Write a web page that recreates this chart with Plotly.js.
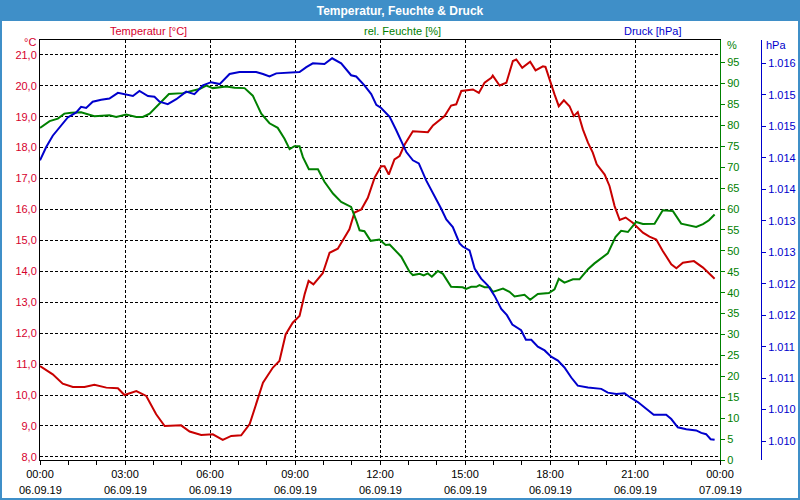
<!DOCTYPE html>
<html>
<head>
<meta charset="utf-8">
<script src="https://cdn.plot.ly/plotly-3.0.1.min.js"></script>
<style>
html,body{margin:0;padding:0;background:#fff;}
#chart{width:800px;height:500px;}
</style>
</head>
<body>
<div id="chart"></div>
<script>
// ---- Data (hours since 06.09.19 00:00) ----
const tTemp = [0,0.45,0.80,1.16,1.57,1.92,2.34,2.75,2.98,3.40,3.75,4.10,4.40,4.98,5.28,5.69,6.10,6.45,6.75,7.10,7.40,7.69,7.87,8.22,8.45,8.67,8.92,9.16,9.34,9.48,9.65,9.98,10.22,10.51,10.92,11.10,11.34,11.57,11.81,12.04,12.16,12.31,12.51,12.69,12.87,13.16,13.69,13.87,14.28,14.51,14.69,14.87,15.28,15.49,15.69,15.93,15.98,16.22,16.46,16.69,16.81,17.02,17.30,17.49,17.75,17.84,17.98,18.16,18.31,18.49,18.69,18.84,18.98,19.16,19.34,19.51,19.65,19.93,20.10,20.28,20.46,20.67,20.92,21.28,21.51,21.75,21.98,22.28,22.46,22.69,23.08,23.40,23.81];
const temp = [10.94,10.67,10.37,10.26,10.26,10.33,10.24,10.22,10.00,10.13,9.97,9.38,9.00,9.02,8.82,8.71,8.73,8.55,8.68,8.70,9.06,9.92,10.40,10.89,11.10,11.96,12.34,12.56,13.26,13.69,13.58,13.94,14.60,14.73,15.36,15.90,16.00,16.38,17.03,17.40,17.40,17.13,17.62,17.73,18.10,18.53,18.50,18.72,19.02,19.36,19.40,19.83,19.88,19.77,20.10,20.26,20.33,20.01,20.10,20.80,20.85,20.58,20.78,20.50,20.63,20.61,20.20,19.72,19.34,19.53,19.34,19.02,19.15,18.59,18.16,17.84,17.46,17.13,16.76,16.11,15.66,15.74,15.57,15.25,15.12,15.03,14.66,14.23,14.10,14.28,14.33,14.12,13.76];

const tHum = [0,0.34,0.63,0.86,1.10,1.45,1.92,2.45,2.69,3.04,3.40,3.63,3.87,4.16,4.55,5.04,5.34,5.63,5.87,6.10,6.57,6.87,7.22,7.51,7.81,8.10,8.39,8.63,8.81,8.98,9.16,9.28,9.49,9.81,10.04,10.34,10.63,10.98,11.16,11.28,11.45,11.67,11.98,12.20,12.34,12.57,12.75,13.04,13.16,13.40,13.54,13.69,13.83,14.04,14.22,14.51,14.92,15.04,15.22,15.40,15.51,15.69,15.87,15.98,16.34,16.57,16.75,17.10,17.30,17.57,17.96,18.16,18.31,18.51,18.81,19.04,19.34,19.57,19.75,20.04,20.31,20.51,20.75,21.04,21.28,21.69,21.98,22.34,22.63,23.16,23.40,23.61,23.81];
const hum = [79.4,81.0,81.6,82.8,83.0,83.1,82.2,82.4,82.0,82.6,82.0,82.0,82.8,84.9,87.5,87.7,88.3,88.7,89.5,88.9,89.3,89.0,88.9,87.1,82.8,80.5,79.4,76.8,74.3,75.0,75.0,72.4,69.5,69.5,66.5,63.7,61.7,60.5,57.3,54.9,54.7,52.4,52.7,51.4,51.5,49.8,48.6,45.0,44.2,44.5,44.1,44.6,43.8,45.2,44.5,41.4,41.3,40.9,41.4,41.4,41.8,41.3,41.3,40.2,41.0,40.2,39.1,39.5,38.3,39.7,39.9,40.8,43.3,42.4,43.2,43.2,45.6,47.0,48.0,49.4,53.3,54.8,54.5,56.9,56.4,56.5,59.7,59.5,56.5,55.7,56.4,57.3,58.7];

const tPres = [0,0.22,0.45,0.69,0.98,1.28,1.45,1.63,1.86,2.16,2.45,2.75,3.04,3.28,3.51,3.81,4.04,4.22,4.51,4.81,5.16,5.45,5.75,6.04,6.34,6.69,7.04,7.63,7.87,8.10,8.34,8.92,9.16,9.40,9.63,10.04,10.31,10.63,10.98,11.16,11.45,11.69,11.87,12.04,12.34,12.57,12.75,12.93,13.16,13.37,13.63,13.92,14.16,14.34,14.57,14.81,14.92,15.16,15.34,15.57,15.81,16.04,16.28,16.48,16.67,16.98,17.15,17.34,17.57,17.81,18.04,18.28,18.51,18.75,18.98,19.34,19.81,20.04,20.34,20.63,20.81,21.10,21.40,21.66,22.10,22.28,22.51,22.81,23.16,23.34,23.51,23.67,23.81];
const pres = [1014.46,1014.67,1014.85,1014.98,1015.14,1015.22,1015.31,1015.29,1015.39,1015.42,1015.44,1015.53,1015.50,1015.48,1015.56,1015.48,1015.47,1015.39,1015.35,1015.43,1015.55,1015.51,1015.65,1015.70,1015.67,1015.83,1015.86,1015.86,1015.83,1015.79,1015.84,1015.85,1015.86,1015.94,1016.00,1015.99,1016.08,1016.00,1015.81,1015.79,1015.65,1015.51,1015.34,1015.29,1015.15,1014.94,1014.76,1014.59,1014.46,1014.41,1014.14,1013.90,1013.69,1013.52,1013.40,1013.14,1013.09,1013.03,1012.74,1012.58,1012.47,1012.31,1012.10,1012.00,1011.85,1011.76,1011.61,1011.61,1011.50,1011.44,1011.34,1011.28,1011.17,1011.01,1010.88,1010.85,1010.83,1010.77,1010.75,1010.76,1010.70,1010.62,1010.51,1010.42,1010.42,1010.35,1010.22,1010.19,1010.17,1010.13,1010.11,1010.03,1010.02];

// ---- Tick labels ----
const xTickVals = [0,3,6,9,12,15,18,21,24];
const xTimeLabels = ['00:00','03:00','06:00','09:00','12:00','15:00','18:00','21:00','00:00'];
const xDateLabels = ['06.09.19','06.09.19','06.09.19','06.09.19','06.09.19','06.09.19','06.09.19','06.09.19','07.09.19'];
const tempTicks = [8,9,10,11,12,13,14,15,16,17,18,19,20,21];
const humTicks = [0,5,10,15,20,25,30,35,40,45,50,55,60,65,70,75,80,85,90,95];
const presTickVals = [1016,1015.5,1015,1014.5,1014,1013.5,1013,1012.5,1012,1011.5,1011,1010.5,1010];
const presTickText = ['1.016','1.015','1.015','1.014','1.014','1.013','1.013','1.012','1.012','1.011','1.011','1.010','1.010'];
const minorHours = [];
for (let h = 0; h <= 24; h++) minorHours.push(h);

// ---- Styling ----
const FONT = 'Liberation Sans, Arial, sans-serif';
const RED = '#c80000', RED_TXT = '#d6002e', GREEN = '#008000', BLUE = '#0000cc', BAR = '#3f8fc8';
const L = 40, R = 39, T = 40, B = 40, W = 800, H = 500;
const plotW = W - L - R, plotH = H - T - B;
const xDomEnd = (720 - L) / plotW;
const px = x => (x - L) / plotW;           // pixel -> paper x
const py = y => (H - B - y) / plotH;       // pixel -> paper y

const traces = [
  {x: tTemp, y: temp, type: 'scatter', mode: 'lines', name: 'Temperatur', yaxis: 'y', line: {color: RED, width: 2}},
  {x: tHum, y: hum, type: 'scatter', mode: 'lines', name: 'rel. Feuchte', yaxis: 'y2', line: {color: GREEN, width: 2}},
  {x: tPres, y: pres, type: 'scatter', mode: 'lines', name: 'Druck', yaxis: 'y3', line: {color: BLUE, width: 2}}
];

const annotations = [
  {text: 'Temperatur [°C]', x: px(148), y: py(31), font: {color: RED_TXT, size: 11, family: FONT}},
  {text: 'rel. Feuchte [%]', x: px(402), y: py(31), font: {color: GREEN, size: 11, family: FONT}},
  {text: 'Druck [hPa]', x: px(652), y: py(31), font: {color: BLUE, size: 11, family: FONT}},
  {text: '°C', x: px(38), y: py(42), xanchor: 'right', font: {color: RED_TXT, size: 11, family: FONT}},
  {text: '%', x: px(725), y: py(45), xanchor: 'left', font: {color: GREEN, size: 11, family: FONT}},
  {text: 'hPa', x: px(764), y: py(45), xanchor: 'left', font: {color: BLUE, size: 11, family: FONT}}
].map(a => Object.assign({xref: 'paper', yref: 'paper', showarrow: false, yanchor: 'middle', xanchor: a.xanchor || 'center'}, a));

xTickVals.forEach((v, i) => {
  annotations.push({text: xDateLabels[i], x: v, xref: 'x', y: py(490), yref: 'paper', showarrow: false,
    xanchor: 'center', yanchor: 'middle', font: {color: '#000', size: 11, family: FONT}});
});

const gridDash = '3px,2px';

const layout = {
  width: W, height: H,
  margin: {l: L, r: R, t: T, b: B, pad: 0},
  paper_bgcolor: '#fff', plot_bgcolor: '#fff',
  separators: ',.',
  showlegend: false,
  font: {family: FONT, size: 11, color: '#000'},
  title: {text: 'Temperatur, Feuchte & Druck', x: 0.5, xref: 'container', xanchor: 'center',
    y: 1 - 10.5 / H, yref: 'container', yanchor: 'middle',
    font: {color: '#fff', size: 12, family: FONT, weight: 'bold'}},
  xaxis: {
    domain: [0, xDomEnd], range: [0, 24], tickmode: 'array', tickvals: xTickVals, ticktext: xTimeLabels,
    ticks: 'outside', ticklen: 4, tickcolor: '#000', tickfont: {color: '#000', size: 11},
    showgrid: true, gridcolor: '#000', gridwidth: 1, griddash: gridDash,
    showline: true, linecolor: '#000', linewidth: 1, mirror: true, zeroline: false,
    minor: {tickmode: 'array', tickvals: minorHours, ticks: 'outside', ticklen: 4, tickcolor: '#000', showgrid: false}
  },
  yaxis: {
    range: [7.9, 21.48], tickmode: 'array', tickvals: tempTicks, tickformat: '.1f',
    ticks: '', tickfont: {color: RED_TXT, size: 11},
    showgrid: true, gridcolor: '#000', gridwidth: 1, griddash: gridDash,
    showline: true, linecolor: '#000', linewidth: 1, zeroline: false
  },
  yaxis2: {
    overlaying: 'y', side: 'right', anchor: 'x', range: [0, 100.4], tickmode: 'array', tickvals: humTicks,
    ticks: 'outside', ticklen: 4, tickcolor: GREEN, tickfont: {color: GREEN, size: 11},
    showgrid: false, showline: true, linecolor: GREEN, linewidth: 1, zeroline: false
  },
  yaxis3: {
    overlaying: 'y', side: 'right', anchor: 'free', position: 1, range: [1009.70, 1016.37],
    tickmode: 'array', tickvals: presTickVals, ticktext: presTickText,
    ticks: 'outside', ticklen: 4, tickcolor: BLUE, tickfont: {color: BLUE, size: 11},
    showgrid: false, showline: true, linecolor: BLUE, linewidth: 1, zeroline: false
  },
  shapes: [
    {type: 'rect', xref: 'paper', yref: 'paper', x0: px(0), x1: px(800), y0: py(21), y1: py(0),
      fillcolor: BAR, line: {width: 0}, layer: 'above'},
    {type: 'rect', xref: 'paper', yref: 'paper', x0: px(1), x1: px(799), y0: py(499), y1: py(1),
      fillcolor: 'rgba(0,0,0,0)', line: {color: BAR, width: 2}, layer: 'above'}
  ],
  annotations: annotations
};

Plotly.newPlot('chart', traces, layout, {displayModeBar: false, staticPlot: true});
</script>
</body>
</html>
